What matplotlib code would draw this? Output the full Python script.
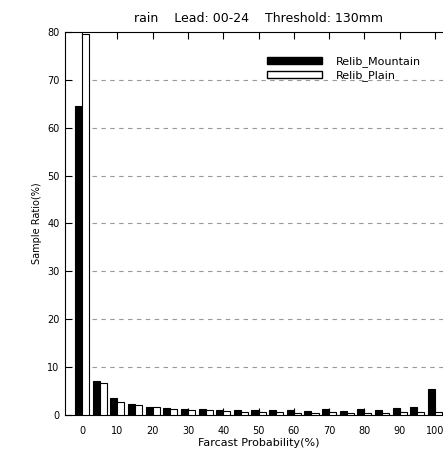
import numpy as np
import matplotlib
matplotlib.use("Agg")
import matplotlib.pyplot as plt
from matplotlib.patches import Patch

bins = [0, 5, 10, 15, 20, 25, 30, 35, 40, 45, 50,
        55, 60, 65, 70, 75, 80, 85, 90, 95, 100]
mountain = [64.5, 7.2, 3.5, 2.4, 1.7, 1.4, 1.3, 1.2, 1.1, 1.0, 1.1,
            1.0, 1.0, 0.9, 1.2, 0.9, 1.2, 1.0, 1.4, 1.6, 5.4]
plain = [79.5, 6.6, 2.8, 2.0, 1.6, 1.2, 1.0, 1.0, 0.8, 0.7, 0.7,
         0.6, 0.5, 0.5, 0.55, 0.5, 0.5, 0.5, 0.6, 0.6, 0.7]
xticks = [0, 10, 20, 30, 40, 50, 60, 70, 80, 90, 100]
yticks = [0, 10, 20, 30, 40, 50, 60, 70, 80]

fig = plt.figure(figsize=(4.43, 4.55), dpi=100)
ax = fig.add_axes([0.1456, 0.0879, 0.876, 0.8418])

x = np.array(bins)
w = 2.0
ax.bar(x - w / 2, mountain, width=w, color="black", edgecolor="black",
       linewidth=0.8, zorder=3)
ax.bar(x + w / 2, plain, width=w, color="white", edgecolor="black",
       linewidth=0.8, zorder=3)

ax.set_xlim(-5, 105)
ax.set_ylim(0, 80)
ax.set_xticks(xticks)
ax.set_yticks(yticks)
ax.tick_params(axis="both", direction="in", length=5, labelsize=7,
               top=True, bottom=True, left=True, right=True)
ax.tick_params(axis="x", pad=8)

# dashed guide lines start just right of the first bar pair
ax.hlines(yticks[1:-1], 2.7, 105, colors="#999999", linestyles=(0, (4, 4)),
          linewidth=0.8, zorder=1)

ax.set_xlabel("Farcast Probability(%)", fontsize=8, labelpad=1)
ax.set_ylabel("Sample Ratio(%)", fontsize=7)
ax.set_title("rain    Lead: 00-24    Threshold: 130mm", fontsize=9, pad=7)

handles = [Patch(facecolor="black", edgecolor="black", label="Relib_Mountain"),
           Patch(facecolor="white", edgecolor="black", label="Relib_Plain")]
ax.legend(handles=handles, loc="upper left", bbox_to_anchor=(0.51, 0.948),
          frameon=False, fontsize=8, handlelength=5.0, handleheight=0.6,
          handletextpad=1.2, labelspacing=0.3, borderaxespad=0)

fig.savefig("out.png", dpi=100)
